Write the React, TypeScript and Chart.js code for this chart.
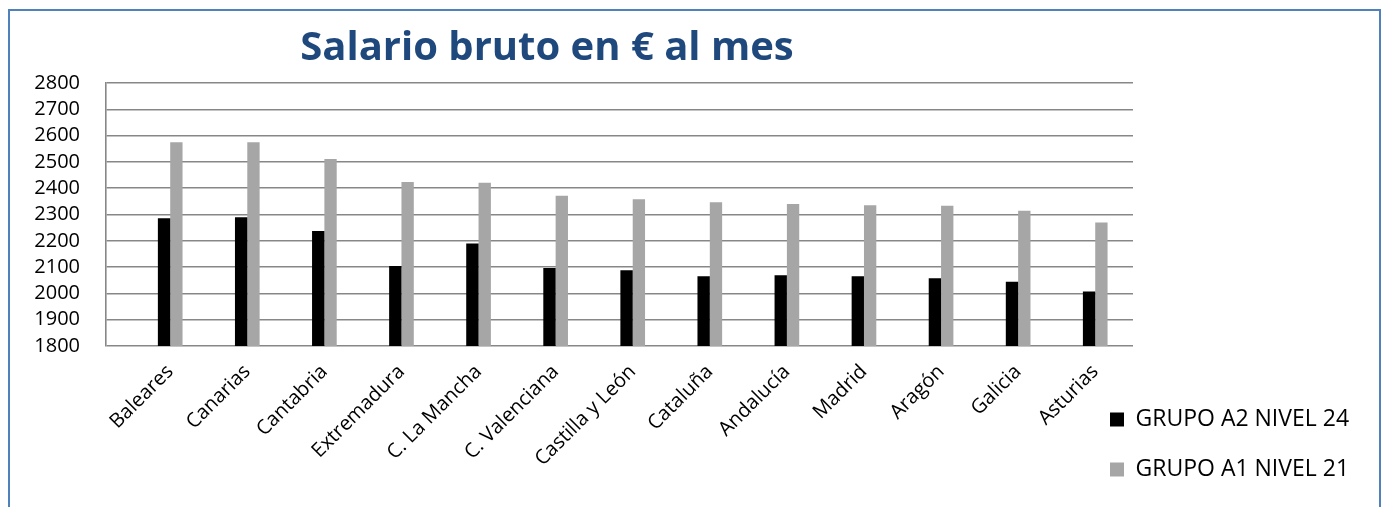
import React, { useEffect, useRef } from 'react';
import { Chart, registerables } from 'chart.js';

Chart.register(...registerables);

const chartTitle = 'Salario bruto en € al mes';
const categories = [
  'Baleares', 'Canarias', 'Cantabria', 'Extremadura', 'C. La Mancha', 'C. Valenciana',
  'Castilla y León', 'Cataluña', 'Andalucía', 'Madrid', 'Aragón', 'Galicia', 'Asturias',
];
const seriesNames = ['GRUPO A2 NIVEL 24', 'GRUPO A1 NIVEL 21'];
const grupoA2Nivel24 = [2286, 2290, 2237, 2104, 2190, 2097, 2088, 2065, 2069, 2065, 2058, 2044, 2007];
const grupoA1Nivel21 = [2575, 2575, 2511, 2424, 2421, 2371, 2358, 2347, 2340, 2335, 2333, 2314, 2270];
const yMin = 1800;
const yMax = 2800;
const yStep = 100;

const FONT = "'Open Sans', sans-serif";

export default function App() {
  const canvasRef = useRef<HTMLCanvasElement>(null);

  useEffect(() => {
    const canvas = canvasRef.current;
    if (!canvas) return;

    const placement = {
      id: 'placement',
      afterLayout(chart: any) {
        const ca = chart.chartArea;
        const lg = chart.legend;
        if (lg) {
          const pad = lg.options.labels.padding;
          const dx = ca.right - 23 - (lg.left + pad);
          lg.left += dx;
          lg.width = lg.right - lg.left;
        }
        const tb = chart.titleBlock;
        if (tb) {
          tb.left = ca.left;
          tb.right = ca.left + 882;
        }
      },
    };

    const chart = new Chart(canvas, {
      type: 'bar',
      data: {
        datasets: [
          {
            label: seriesNames[0],
            data: grupoA2Nivel24.map((v, i) => ({ x: i, y: v })),
            backgroundColor: '#000000',
            borderWidth: 0,
            barPercentage: 1,
            categoryPercentage: 0.32,
          },
          {
            label: seriesNames[1],
            data: grupoA1Nivel21.map((v, i) => ({ x: i, y: v })),
            backgroundColor: '#A6A6A6',
            borderWidth: 0,
            barPercentage: 1,
            categoryPercentage: 0.32,
          },
        ],
      },
      options: {
        animation: false,
        responsive: true,
        maintainAspectRatio: false,
        layout: { padding: { left: 0, right: 0, top: 0, bottom: 0 } },
        plugins: {
          title: {
            display: true,
            text: chartTitle,
            color: '#1F497D',
            font: { family: FONT, size: 40, weight: 'bold' },
            padding: { top: 14, bottom: 10 },
          },
          legend: {
            position: 'right',
            align: 'end',
            maxWidth: 246,
            labels: {
              boxWidth: 14,
              boxHeight: 14,
              padding: 27,
              color: '#000',
              font: { family: FONT, size: 23 },
            },
          },
          tooltip: { enabled: false },
        },
        scales: {
          x: {
            type: 'linear',
            offset: false,
            min: -0.833,
            max: 12.49,
            grid: { display: false, drawTicks: false, offset: false },
            border: { display: false },
            ticks: {
              stepSize: 1,
              autoSkip: false,
              minRotation: 45,
              maxRotation: 45,
              padding: 14,
              color: '#000',
              font: { family: FONT, size: 20 },
              callback: (v: any) => categories[v as number] ?? '',
            },
            afterBuildTicks: (scale: any) => {
              scale.ticks = scale.ticks.filter(
                (t: any) => Number.isInteger(t.value) && t.value >= 0 && t.value < categories.length,
              );
            },
            afterFit: (scale: any) => {
              scale.height = 162;
            },
          },
          y: {
            min: yMin,
            max: yMax,
            ticks: {
              stepSize: yStep,
              autoSkip: false,
              padding: 26,
              color: '#000',
              font: { family: FONT, size: 20, lineHeight: 1 },
              callback: (v: any) => String(v),
            },
            grid: { color: '#878787', lineWidth: 1.6, drawTicks: false },
            border: { color: '#878787', width: 1.6 },
            afterFit: (scale: any) => {
              scale.width = 96;
            },
          },
        },
      },
      plugins: [placement],
    });

    return () => chart.destroy();
  }, []);

  return (
    <div
      style={{
        marginTop: 1,
        border: '2px solid #4F81BD',
        height: 502,
        boxSizing: 'border-box',
      }}
    >
      <div style={{ position: 'relative', height: 497 }}>
        <canvas ref={canvasRef} />
      </div>
    </div>
  );
}
